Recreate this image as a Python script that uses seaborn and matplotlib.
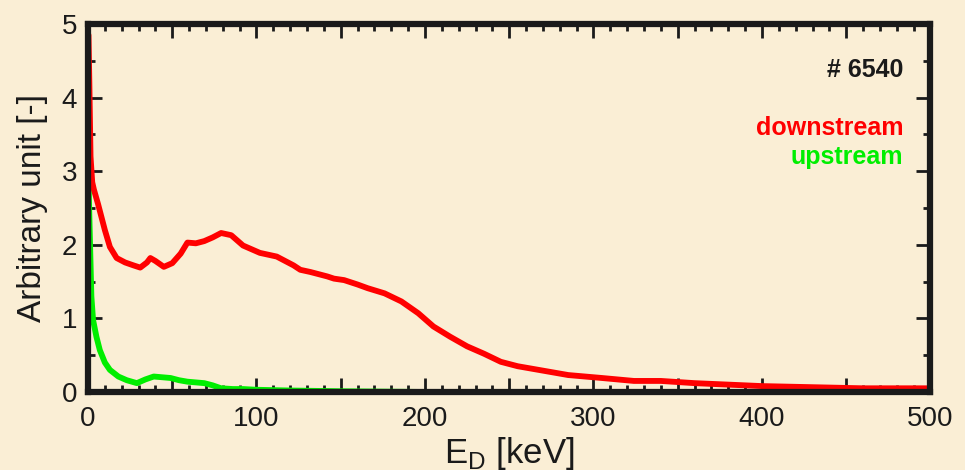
import matplotlib
matplotlib.use("Agg")
import matplotlib.pyplot as plt
import seaborn as sns
import pandas as pd
from matplotlib.ticker import MultipleLocator, FuncFormatter

# Data
down_x = [0.3, 0.8, 1.5, 2.5, 3.5, 6, 10, 13, 17, 22, 27, 31, 35, 37, 40, 45, 50, 55, 59, 64, 69, 74,
          79, 85, 92, 102, 112, 122, 126, 132, 142, 146, 152, 160, 166, 176, 186, 196, 205, 215,
          225, 235, 245, 255, 265, 285, 305, 324, 340, 360, 380, 400, 420, 440, 460, 480, 500]
down_y = [4.85, 4.2, 3.2, 2.85, 2.75, 2.55, 2.2, 1.97, 1.82, 1.76, 1.72, 1.69, 1.76, 1.82, 1.78, 1.70,
          1.75, 1.88, 2.03, 2.02, 2.05, 2.10, 2.16, 2.13, 1.99, 1.89, 1.84, 1.72, 1.66, 1.63, 1.57,
          1.54, 1.52, 1.46, 1.41, 1.34, 1.23, 1.07, 0.89, 0.75, 0.62, 0.52, 0.41, 0.35, 0.31, 0.23,
          0.19, 0.15, 0.15, 0.12, 0.10, 0.08, 0.07, 0.06, 0.05, 0.05, 0.05]
up_x = [0.3, 1, 2, 3, 5, 7, 10, 13, 18, 23, 29, 34, 39, 44, 49, 54, 59, 64, 69, 74, 79, 86, 92, 100,
        120, 150, 200, 250, 300, 350, 400, 450, 500]
up_y = [2.88, 2.2, 1.3, 0.98, 0.75, 0.57, 0.40, 0.30, 0.21, 0.16, 0.12, 0.17, 0.21, 0.20, 0.19, 0.16,
        0.14, 0.13, 0.12, 0.09, 0.05, 0.04, 0.04, 0.03, 0.02, 0.01, 0.0, 0.0, 0.0, 0.0, 0.0, 0.0, 0.0]

bg = "#FAEED5"
ink = "#1a1a1a"
sns.set_theme(style="ticks")
plt.rcParams["font.family"] = ["Liberation Sans", "DejaVu Sans"]

fig = plt.figure(figsize=(9.65, 4.7), dpi=100, facecolor=bg)
ax = fig.add_axes([0.0912, 0.166, 0.873, 0.783])
ax.set_facecolor(bg)

df_up = pd.DataFrame({"x": up_x, "y": up_y})
df_down = pd.DataFrame({"x": down_x, "y": down_y})
sns.lineplot(data=df_up, x="x", y="y", ax=ax, color="#00EE00", lw=4.2, estimator=None, sort=False)
sns.lineplot(data=df_down, x="x", y="y", ax=ax, color="#FF0000", lw=4.2, estimator=None, sort=False)

ax.set_xlim(0, 500)
ax.set_ylim(0, 5)
ax.xaxis.set_major_locator(MultipleLocator(50))
ax.xaxis.set_major_formatter(FuncFormatter(lambda v, p: f"{int(round(v))}" if round(v) % 100 == 0 else ""))
ax.xaxis.set_minor_locator(MultipleLocator(10))
ax.yaxis.set_major_locator(MultipleLocator(1))
ax.yaxis.set_minor_locator(MultipleLocator(0.5))
ax.tick_params(which="both", direction="in", top=True, right=True, color=ink,
               labelsize=20, labelcolor=ink)
ax.tick_params(axis="x", pad=10)
ax.tick_params(axis="y", pad=8)
ax.tick_params(which="major", length=10, width=2)
ax.tick_params(which="minor", length=5, width=2)
for s in ax.spines.values():
    s.set_linewidth(4.5)
    s.set_color(ink)

ax.set_xlabel(r"E$_\mathregular{D}$ [keV]", fontsize=25, color=ink, labelpad=2)
ax.set_ylabel("Arbitrary unit [-]", fontsize=24, color=ink, labelpad=10)

ax.text(0.968, 0.875, "# 6540", transform=ax.transAxes, ha="right", va="center",
        fontsize=18, fontweight="bold", color=ink)
ax.text(0.968, 0.717, "downstream", transform=ax.transAxes, ha="right", va="center",
        fontsize=18, fontweight="bold", color="#FF0000")
ax.text(0.968, 0.639, "upstream", transform=ax.transAxes, ha="right", va="center",
        fontsize=18, fontweight="bold", color="#00EE00")

fig.savefig("out.png", dpi=100, facecolor=bg)
